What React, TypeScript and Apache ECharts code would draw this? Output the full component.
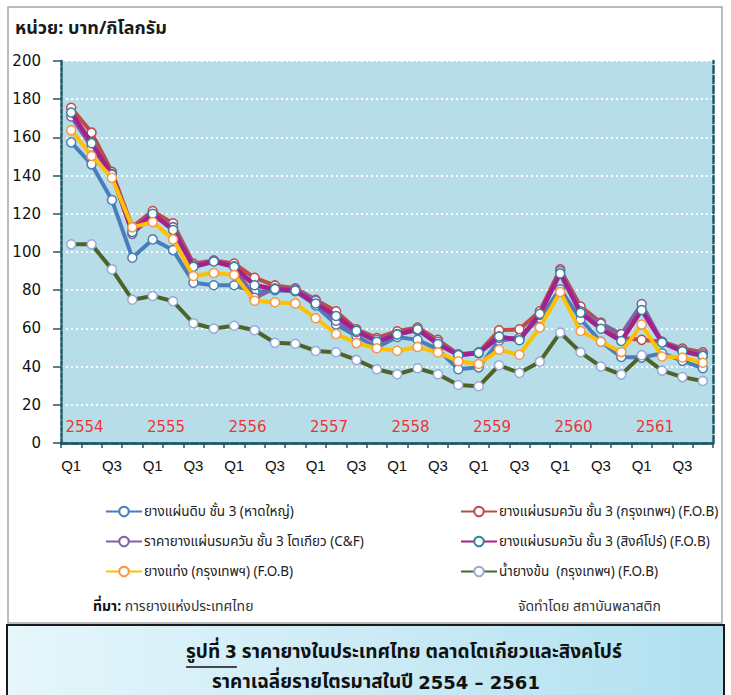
import React, { useEffect, useRef } from 'react';
import * as echarts from 'echarts';

const years = ['2554', '2555', '2556', '2557', '2558', '2559', '2560', '2561'];
const quarterNames = ['Q1', 'Q2', 'Q3', 'Q4'];
const categories = years.flatMap((y) => quarterNames.map((q) => `${y}-${q}`));

const yMin = 0;
const yMax = 200;
const yInterval = 20;
const yearLabelValue = 8.6;

const seriesNames = [
  'ยางแผ่นดิบ ชั้น 3 (หาดใหญ่)',
  'ยางแผ่นรมควัน ชั้น 3 (กรุงเทพฯ) (F.O.B)',
  'ราคายางแผ่นรมควัน ชั้น 3 โตเกียว (C&F)',
  'ยางแผ่นรมควัน ชั้น 3 (สิงค์โปร์) (F.O.B)',
  'ยางแท่ง (กรุงเทพฯ) (F.O.B)',
  'น้ำยางข้น  (กรุงเทพฯ) (F.O.B)',
];

const ussHatYai = [157.4, 145.9, 127.2, 97, 106.6, 101, 83.9, 82.6, 82.6, 79, 80, 79.5, 72, 62, 56, 50,
  55.5, 54, 49, 38.6, 39.6, 53.5, 55, 65.5, 80.5, 64.8, 53, 45, 44.7, 47, 43, 39.2];
const rssBangkok = [175.5, 162.5, 142, 113, 121.5, 115, 94, 95.5, 94, 86.5, 82.5, 81, 75, 69, 59.5, 55,
  58.5, 60.5, 54, 46.5, 47.5, 59, 59.5, 69, 91, 71.5, 63, 55, 54, 53, 49.5, 47.5];
const rssTokyo = [171, 155, 141, 109.5, 119, 113, 93, 95.5, 92.5, 76, 81, 80.5, 74.5, 64, 58, 54,
  57, 59, 53, 46, 47, 55, 55, 67, 90, 69, 62.5, 57, 72.8, 53, 48.5, 46.5];
const rssSingapore = [173, 157, 140.5, 110.5, 120, 111.5, 92.3, 95, 92.3, 82.6, 80.6, 79.8, 73, 66.5, 58.8, 53,
  56.8, 59.5, 51.8, 46, 47.2, 55.8, 53.8, 67.7, 88.8, 68.2, 59.8, 53.4, 69.6, 52.6, 48, 45.6];
const str20Bangkok = [163.7, 150.3, 138.9, 112.9, 115.7, 106.6, 87.4, 89, 88, 74.5, 73.7, 73.1, 65.3, 57.1, 52.3, 49.6,
  48.3, 50.3, 47.4, 42.8, 41.4, 48.8, 46.2, 60.5, 79.1, 58.6, 53, 47.6, 62, 45.3, 44.8, 42];
const latexBangkok = [104, 104, 90.9, 75, 77, 74.2, 62.7, 59.9, 61.4, 59, 52.5, 52, 48.2, 47.5, 43.5, 38.6,
  36, 39.1, 36, 30.4, 29.7, 40.7, 36.7, 42.6, 57.8, 47.5, 40, 35.8, 46, 37.9, 34.5, 32.5];

const seriesValues = [ussHatYai, rssBangkok, rssTokyo, rssSingapore, str20Bangkok, latexBangkok];
const lineColors = ['#4a7ebb', '#be4b48', '#7e62a1', '#a3218e', '#ffc000', '#4f6228'];
const markerBorders = ['#4a7ebb', '#be4b48', '#7e62a1', '#31859c', '#f79646', '#9aa9d8'];

const THAI = "'Noto Sans Thai', 'Noto Sans Thai UI', Tahoma, 'Leelawadee UI', 'DejaVu Sans', sans-serif";
const NUM = "'DejaVu Sans', sans-serif";
const NARROW = "'Liberation Sans Narrow', 'Arial Narrow', 'Liberation Sans', sans-serif";

const titleText = 'หน่วย: บาท/กิโลกรัม';
const captionLeadThai = 'รูปที่ ';
const captionLeadNum = '3';
const captionRest = ' ราคายางในประเทศไทย ตลาดโตเกียวและสิงคโปร์';
const captionLine2Thai = 'ราคาเฉลี่ยรายไตรมาสในปี ';
const captionLine2Num = '2554 – 2561';
const sourceLabel = 'ที่มา:';
const sourceText = ' การยางแห่งประเทศไทย';
const makerText = 'จัดทำโดย สถาบันพลาสติก';

function measure(text: string, font: string): number {
  const c = document.createElement('canvas');
  const ctx = c.getContext('2d');
  if (!ctx) return text.length * 10;
  ctx.font = font;
  return ctx.measureText(text).width;
}

export default function App() {
  const ref = useRef<HTMLDivElement>(null);

  useEffect(() => {
    if (!ref.current) return;
    const chart = echarts.init(ref.current, null, { renderer: 'svg' });

    const capThai = `bold 19px ${THAI}`;
    const capNum = `bold 17px ${NUM}`;
    const capNum2 = `bold 18px ${NUM}`;
    const l1x = 186;
    const wLeadThai = measure(captionLeadThai, capThai);
    const wLeadNum = measure(captionLeadNum, capNum);
    const l2x = 212;
    const wL2Thai = measure(captionLine2Thai, capThai);

    const lineSeries = seriesNames.map((name, i) => ({
      name,
      type: 'line',
      data: seriesValues[i],
      symbol: 'circle',
      symbolSize: 9,
      showSymbol: true,
      z: 3 + i,
      lineStyle: { color: lineColors[i], width: i === 3 ? 4.5 : 4 },
      itemStyle: { color: '#ffffff', borderColor: markerBorders[i], borderWidth: 1.5 },
      emphasis: { disabled: true },
    }));

    const legendCommon = {
      orient: 'vertical',
      itemWidth: 36,
      itemHeight: 12,
      itemGap: 13,
      textStyle: { fontFamily: THAI, fontSize: 13.5, color: '#222', lineHeight: 17, padding: [0, 0, 0, -3] },
      selectedMode: false,
    };

    chart.setOption({
      animation: false,
      backgroundColor: '#ffffff',
      grid: {
        left: 61,
        right: 18,
        top: 61,
        bottom: 252,
        show: true,
        backgroundColor: '#b7dde8',
        borderWidth: 0,
        containLabel: false,
        outerBoundsMode: 'none',
      },
      legend: [
        { ...legendCommon, data: [seriesNames[0], seriesNames[2], seriesNames[4]], left: 100, top: 498 },
        { ...legendCommon, data: [seriesNames[1], seriesNames[3], seriesNames[5]], left: 455, top: 498 },
      ],
      xAxis: [
        {
          type: 'category',
          data: categories,
          boundaryGap: true,
          axisLine: { show: true, lineStyle: { color: '#215968', width: 2.5 } },
          axisTick: { show: true, interval: 0, length: 5, lineStyle: { color: '#215968', width: 1.5 } },
          axisLabel: {
            interval: 1,
            margin: 15,
            fontFamily: NARROW,
            fontSize: 15,
            color: '#111',
            formatter: (v: string) => v.split('-')[1],
          },
          splitLine: { show: false },
        },
        {
          type: 'category',
          data: categories,
          position: 'top',
          boundaryGap: true,
          axisLine: { show: true, lineStyle: { color: '#215968', width: 2.5, type: [7, 3] } },
          axisTick: { show: false },
          axisLabel: { show: false },
          splitLine: { show: false },
        },
      ],
      yAxis: [
        {
          type: 'value',
          min: yMin,
          max: yMax,
          interval: yInterval,
          axisLine: { show: true, lineStyle: { color: '#215968', width: 2.5, type: [4, 2] } },
          axisTick: { show: true, length: 8, lineStyle: { color: '#215968', width: 1.5 } },
          axisLabel: { fontFamily: NUM, fontSize: 15, color: '#111', margin: 20 },
          splitLine: { show: true, lineStyle: { color: '#ffffff', width: 2, type: [2, 3] } },
        },
        {
          type: 'value',
          min: yMin,
          max: yMax,
          interval: yInterval,
          position: 'right',
          axisLine: { show: true, lineStyle: { color: '#215968', width: 2.5, type: [7, 3] } },
          axisTick: { show: false },
          axisLabel: { show: false },
          splitLine: { show: false },
        },
      ],
      series: [
        ...lineSeries,
        {
          name: 'years',
          type: 'scatter',
          data: years.map((_, k) => [k * 4 + 1, yearLabelValue]),
          symbolSize: 0,
          silent: true,
          z: 2,
          label: {
            show: true,
            position: 'inside',
            offset: [-7, 0],
            formatter: (p: any) => years[p.dataIndex],
            color: '#ff0000',
            fontFamily: NUM,
            fontSize: 15,
          },
        },
      ],
      graphic: [
        {
          type: 'rect',
          z: -10,
          shape: { x: 8, y: 7, width: 714, height: 616 },
          style: { fill: 'none', stroke: '#a6a6a6', lineWidth: 1.5 },
        },
        {
          type: 'text',
          x: 15,
          y: 28,
          style: { text: titleText, font: `bold 18px ${THAI}`, fill: '#1a1a1a', verticalAlign: 'middle' },
        },
        {
          type: 'text',
          x: 93,
          y: 606,
          style: {
            text: `{b|${sourceLabel}}${sourceText}`,
            font: `14px ${THAI}`,
            fill: '#333',
            verticalAlign: 'middle',
            rich: { b: { fontWeight: 'bold', fontFamily: THAI, fontSize: 14, fill: '#111' } },
          },
        },
        {
          type: 'text',
          x: 518,
          y: 606,
          style: { text: makerText, font: `14px ${THAI}`, fill: '#333', verticalAlign: 'middle' },
        },
        {
          type: 'rect',
          shape: { x: 7, y: 625, width: 717, height: 80 },
          style: {
            fill: new echarts.graphic.LinearGradient(0, 0, 1, 0, [
              { offset: 0, color: '#e6f6fb' },
              { offset: 1, color: '#b1e0f0' },
            ]),
            stroke: '#1a1a1a',
            lineWidth: 2,
          },
        },
        {
          type: 'text',
          x: l1x,
          y: 652,
          style: { text: captionLeadThai, font: capThai, fill: '#111', verticalAlign: 'middle', align: 'left' },
        },
        {
          type: 'text',
          x: l1x + wLeadThai,
          y: 652,
          style: { text: captionLeadNum, font: capNum, fill: '#111', verticalAlign: 'middle', align: 'left' },
        },
        {
          type: 'line',
          shape: { x1: l1x, y1: 667, x2: l1x + wLeadThai + wLeadNum, y2: 667 },
          style: { stroke: '#111', lineWidth: 1.5 },
        },
        {
          type: 'text',
          x: l1x + wLeadThai + wLeadNum,
          y: 652,
          style: { text: captionRest, font: capThai, fill: '#111', verticalAlign: 'middle', align: 'left' },
        },
        {
          type: 'text',
          x: l2x,
          y: 682,
          style: { text: captionLine2Thai, font: capThai, fill: '#111', verticalAlign: 'middle', align: 'left' },
        },
        {
          type: 'text',
          x: l2x + wL2Thai,
          y: 682,
          style: { text: captionLine2Num, font: capNum2, fill: '#111', verticalAlign: 'middle', align: 'left' },
        },
      ],
    });

    return () => {
      chart.dispose();
    };
  }, []);

  return (
    <div
      ref={ref}
      style={{ position: 'absolute', left: 0, top: 0, width: 731, height: 695 }}
    />
  );
}
